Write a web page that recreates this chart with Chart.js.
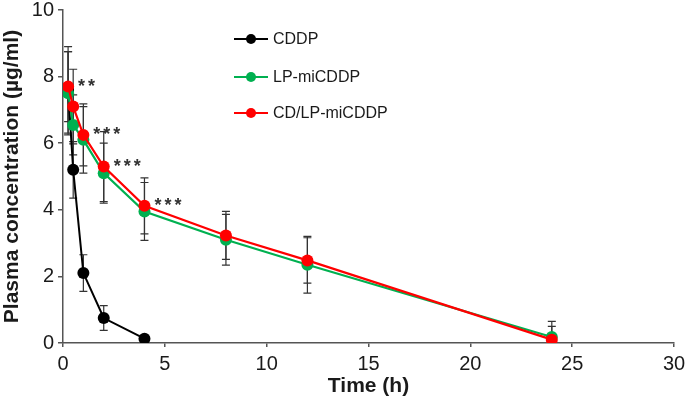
<!DOCTYPE html>
<html>
<head>
<meta charset="utf-8">
<script src="https://cdn.jsdelivr.net/npm/chart.js@4/dist/chart.umd.min.js"></script>
<style>
html,body{margin:0;padding:0;background:#fff;}
#wrap{width:685px;height:406px;position:relative;}
</style>
</head>
<body>
<div id="wrap"><canvas id="c" width="685" height="406"></canvas></div>
<script>
// ---- data ----
const timeCDDP = [0.25, 0.5, 1, 2, 4];
const cddp     = [7.6, 5.2, 2.1, 0.75, 0.13];
const cddpSD   = [1.3, 0.85, 0.55, 0.37, 0.05];

const timeLP   = [0.25, 0.5, 1, 2, 4, 8, 12, 24];
const lpMi     = [7.5, 6.55, 6.1, 5.1, 3.95, 3.1, 2.35, 0.18];
const lpMiSD   = [1.25, 0.9, 1.0, 0.9, 0.87, 0.76, 0.85, 0.47];

const cdLpMi   = [7.7, 7.1, 6.25, 5.3, 4.12, 3.23, 2.48, 0.1];
const cdLpMiSD = [1.05, 1.12, 0.93, 1.05, 0.84, 0.72, 0.68, 0.4];

const sigTimes  = [0.25, 1, 2, 4];
const sigLabels = ['**', '***', '***', '***'];

const seriesNames = ['CDDP', 'LP-miCDDP', 'CD/LP-miCDDP'];
const xTicks = [0, 5, 10, 15, 20, 25, 30];
const yTicks = [0, 2, 4, 6, 8, 10];

const colBlack = '#000000', colGreen = '#00b050', colRed = '#ff0000';
const axisCol = '#555555', textCol = '#1a1a1a';

function pts(xs, ys){ return xs.map((x,i)=>({x:x, y:ys[i]})); }

const errorBarPlugin = {
  id: 'errorBars',
  beforeDatasetsDraw(chart){
    const ctx = chart.ctx, xs = chart.scales.x, ys = chart.scales.y;
    ctx.save();
    ctx.strokeStyle = '#333333';
    ctx.lineWidth = 1.2;
    chart.data.datasets.forEach(ds=>{
      ds.data.forEach((p,i)=>{
        const sd = ds.sd[i];
        const px = xs.getPixelForValue(p.x);
        const yt = ys.getPixelForValue(p.y + sd);
        const yb = ys.getPixelForValue(Math.max(0, p.y - sd));
        ctx.beginPath();
        ctx.moveTo(px, yt); ctx.lineTo(px, yb);
        ctx.moveTo(px-4, yt); ctx.lineTo(px+4, yt);
        if (p.y - sd > 0){ ctx.moveTo(px-4, yb); ctx.lineTo(px+4, yb); }
        ctx.stroke();
      });
    });
    ctx.restore();
  }
};

const annotPlugin = {
  id: 'annot',
  afterDatasetsDraw(chart){
    const ctx = chart.ctx, xs = chart.scales.x, ys = chart.scales.y;
    ctx.save();
    // significance asterisks
    ctx.fillStyle = '#333333';
    ctx.font = 'bold 18px "Liberation Sans", Arial, sans-serif';
    ctx.textBaseline = 'alphabetic';
    ctx.textAlign = 'left';
    sigTimes.forEach((t,k)=>{
      const idx = timeLP.indexOf(t);
      const px = xs.getPixelForValue(t) + 10;
      const py = ys.getPixelForValue(cdLpMi[idx]) + 5;
      const s = sigLabels[k];
      for (let j=0;j<s.length;j++){
        ctx.fillText('*', px + j*10, py);
      }
    });
    // legend
    const cols = [colBlack, colGreen, colRed];
    const rowsY = [39, 77, 113];
    ctx.font = '16px "Liberation Sans", Arial, sans-serif';
    ctx.textBaseline = 'middle';
    seriesNames.forEach((n,i)=>{
      const y = rowsY[i];
      ctx.strokeStyle = cols[i];
      ctx.lineWidth = 2.2;
      ctx.beginPath(); ctx.moveTo(234, y); ctx.lineTo(268, y); ctx.stroke();
      ctx.fillStyle = cols[i];
      ctx.beginPath(); ctx.arc(251, y, 5, 0, Math.PI*2); ctx.fill();
      ctx.fillStyle = textCol;
      ctx.fillText(n, 273, y+1);
    });
    ctx.restore();
  }
};

const tickFont = {family: '"Liberation Sans", Arial, sans-serif', size: 20};
const titleFont = {family: '"Liberation Sans", Arial, sans-serif', size: 21, weight: 'bold'};

new Chart(document.getElementById('c'), {
  type: 'line',
  data: {
    datasets: [
      {label: seriesNames[0], data: pts(timeCDDP, cddp), sd: cddpSD, borderColor: colBlack, backgroundColor: colBlack,
       borderWidth: 2, pointRadius: 6, pointBorderWidth: 0, order: 3},
      {label: seriesNames[1], data: pts(timeLP, lpMi), sd: lpMiSD, borderColor: colGreen, backgroundColor: colGreen,
       borderWidth: 2.2, pointRadius: 6, pointBorderWidth: 0, order: 2},
      {label: seriesNames[2], data: pts(timeLP, cdLpMi), sd: cdLpMiSD, borderColor: colRed, backgroundColor: colRed,
       borderWidth: 2.2, pointRadius: 6, pointBorderWidth: 0, order: 1}
    ]
  },
  options: {
    responsive: false,
    animation: false,
    devicePixelRatio: 1,
    layout: {padding: {top: 10, right: 11, left: 0, bottom: 0}},
    plugins: {legend: {display: false}, tooltip: {enabled: false}},
    elements: {line: {tension: 0}},
    scales: {
      x: {
        type: 'linear', min: 0, max: 30,
        afterBuildTicks(s){ s.ticks = xTicks.map(v=>({value:v})); },
        afterFit(s){ s.height = 63; s.paddingLeft = 0; s.paddingRight = 0; },
        ticks: {font: tickFont, color: textCol, padding: 5, maxRotation: 0},
        grid: {display: true, drawOnChartArea: false, drawTicks: true, tickLength: 4, color: axisCol, lineWidth: 1.5},
        border: {display: true, color: axisCol, width: 1.5},
        title: {display: true, text: 'Time (h)', font: titleFont, color: textCol, padding: {top: 2, bottom: 7}}
      },
      y: {
        type: 'linear', min: 0, max: 10,
        afterBuildTicks(s){ s.ticks = yTicks.map(v=>({value:v})); },
        afterFit(s){ s.width = 63; s.paddingTop = 0; s.paddingBottom = 0; },
        ticks: {font: tickFont, color: textCol, padding: 4},
        grid: {display: true, drawOnChartArea: false, drawTicks: true, tickLength: 5, color: axisCol, lineWidth: 1.5},
        border: {display: true, color: axisCol, width: 1.5},
        title: {display: true, text: 'Plasma concentration (µg/ml)', font: titleFont, color: textCol, padding: {top: 0, bottom: 0}}
      }
    }
  },
  plugins: [errorBarPlugin, annotPlugin]
});
</script>
</body>
</html>
